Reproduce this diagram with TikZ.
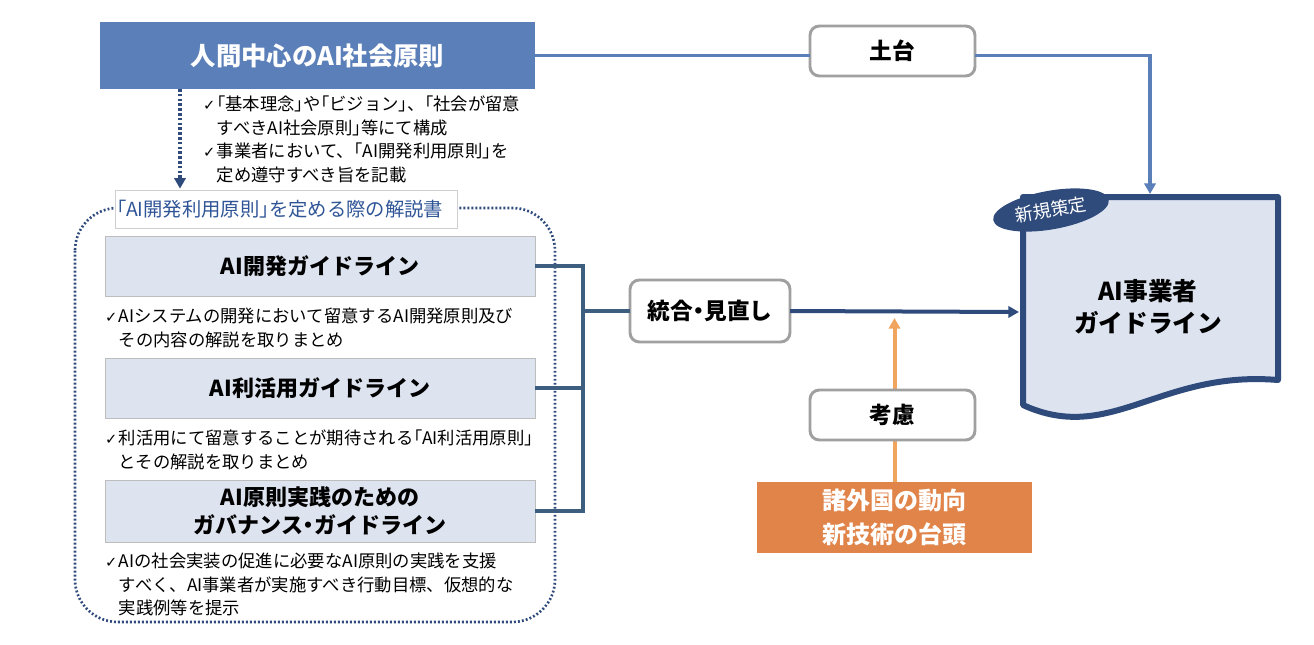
\documentclass[tikz,border=0pt]{standalone}
\usepackage{fontspec}
\setmainfont{Noto Sans CJK JP}
\newfontfamily\pp{Noto Sans CJK JP}[RawFeature=+palt]
\newfontfamily\dv{DejaVu Sans}
\usetikzlibrary{arrows.meta,shapes.geometric}
\definecolor{topblue}{RGB}{91,127,184}
\definecolor{navy}{RGB}{47,75,124}
\definecolor{steel}{RGB}{62,94,128}
\definecolor{lightfill}{RGB}{221,228,240}
\definecolor{graybd}{RGB}{160,160,160}
\definecolor{orangebox}{RGB}{224,132,74}
\definecolor{orangearrow}{RGB}{240,164,94}
\definecolor{labelblue}{RGB}{47,85,151}
\newcommand{\ck}{{\dv\fontsize{11}{10}\selectfont ✓}\hspace{1.2pt}}
\newcommand{\ind}{\phantom{\ck}}
\newcommand{\lb}{{\pp 「}}
\newcommand{\rb}{{\pp 」}}
\newcommand{\nk}{{\pp ・}}
\begin{document}
\begin{tikzpicture}[x=0.75pt,y=-0.75pt,
  every node/.style={inner sep=0pt,outer sep=0pt},
  gbox/.style={draw=graybd!70, line width=0.6pt, fill=lightfill, minimum width=322.5pt, minimum height=45pt, font=\bfseries\fontsize{16.5}{21}\selectfont, align=center},
  rbox/.style={draw=graybd, line width=2.2pt, fill=white, rounded corners=7pt, font=\bfseries\fontsize{17}{20}\selectfont},
  bul/.style={anchor=north west, align=left, font=\fontsize{13}{17.6}\selectfont},
  conn/.style={draw=steel, line width=3pt},
  tip/.style={-{Triangle[length=8pt,width=8.5pt]}}
  ]
\useasboundingbox (0,0) rectangle (1314,644);
% top principle box
\node[fill=topblue, minimum width=326.25pt, minimum height=50.25pt, text=white, font=\bfseries\fontsize{19}{22}\selectfont] (title) at (317.5,55.5) {人間中心のAI社会原則};
\node[rbox, minimum width=123.75pt, minimum height=37.5pt] (dodai) at (892.5,51) {土台};
% document shape
\draw[navy, line width=4.5pt, fill=lightfill, line join=round] (1023,197) -- (1278,197) -- (1278,380) .. controls (1160,370) and (1110,445) .. (1023,405) -- cycle;
\node[font=\bfseries\fontsize{18.5}{24}\selectfont, align=center] (doctext) at (1148,307) {AI事業者\\ガイドライン};
\node[ellipse, fill=navy, minimum width=88pt, minimum height=29pt, rotate=10, text=white, font=\fontsize{13.5}{14}\selectfont] (newtag) at (1051,210) {新規策定};
\coordinate (doctop) at (1150,194);
\coordinate (docleft) at (1019,312);
\draw[topblue, line width=2.3pt] (title.east) -- (title.east -| dodai.west);
\draw[topblue, line width=2.3pt, tip] (title.east -| dodai.east) -| (doctop);
% left dotted frame
\draw[navy, line width=2pt, dash pattern=on 1.4pt off 1.6pt, rounded corners=32pt] (75,208) rectangle (555,622);
\node[draw=graybd!50, line width=0.5pt, fill=white, anchor=west, inner xsep=1pt, text width=255pt, minimum height=28.5pt, align=left, text=labelblue, font=\fontsize{14.5}{15}\selectfont] (label) at (115,209) {\lb{}AI開発利用原則\rb{}を定める際の解説書};
\coordinate (dotx) at (180,0);
\draw[navy, line width=3pt, dash pattern=on 2pt off 1.6pt, tip] (title.south -| dotx) -- ([yshift=1pt]dotx |- label.north);
\node[bul] (b1) at (203,96) {\ck{}\lb{}基本理念\rb{}や\lb{}ビジョン\rb{}、\lb{}社会が留意\\\ind{}すべきAI社会原則\rb{}等にて構成\\\ck{}事業者において、\lb{}AI開発利用原則\rb{}を\\\ind{}定め遵守すべき旨を記載};
% guideline boxes
\node[gbox] (g1) at (320,266) {AI開発ガイドライン};
\node[bul] (b2) at (105,308) {\ck{}AIシステムの開発において留意するAI開発原則及び\\\ind{}その内容の解説を取りまとめ};
\node[gbox] (g2) at (320,388) {AI利活用ガイドライン};
\node[bul] (b3) at (105,430) {\ck{}利活用にて留意することが期待される\lb{}AI利活用原則\rb\\\ind{}とその解説を取りまとめ};
\node[gbox, minimum height=46.5pt] (g3) at (320,511) {AI原則実践のための\\ガバナンス\nk{}ガイドライン};
\node[bul] (b4) at (105,553) {\ck{}AIの社会実装の促進に必要なAI原則の実践を支援\\\ind{}すべく、AI事業者が実施すべき行動目標、仮想的な\\\ind{}実践例等を提示};
% integration
\node[rbox, minimum width=120pt, minimum height=46.5pt] (togo) at (710,311) {統合\nk{}見直し};
\coordinate (bus) at (583,0);
\draw[conn] (g1.east) -- (g1.east -| bus) |- (g3.east);
\draw[conn] (g2.east) -- (g2.east -| bus);
\draw[conn] (togo.west) -- (togo.west -| bus);
\draw[navy, line width=3pt, tip] (togo.east) -- (docleft);
% consideration
\node[fill=orangebox, minimum width=206.25pt, minimum height=53.25pt, text=white, font=\bfseries\fontsize{18}{25}\selectfont, align=center] (foreign) at (894.5,517.5) {諸外国の動向\\新技術の台頭};
\coordinate (otip) at (894.5,318);
\draw[orangearrow, line width=3pt, tip] (foreign.north) -- (otip);
\node[rbox, minimum width=123.75pt, minimum height=37.5pt] (koryo) at (892.5,415) {考慮};
\end{tikzpicture}
\end{document}
